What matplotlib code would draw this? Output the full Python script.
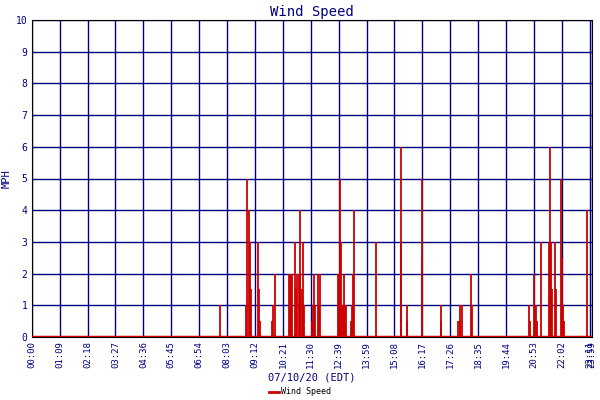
import matplotlib
matplotlib.use("Agg")
import matplotlib.pyplot as plt
from matplotlib.lines import Line2D

tick_labels = ["00:00","01:09","02:18","03:27","04:36","05:45","06:54","08:03","09:12","10:21",
               "11:30","12:39","13:59","15:08","16:17","17:26","18:35","19:44","20:53","22:02","23:11","23:59"]
tick_minutes = [i*69 for i in range(21)] + [1386]

times = [465,530,533,537,539,542,560,562,564,595,597,602,636,638,640,644,651,653,656,660,663,664,668,671,673,
         693,696,698,701,708,711,714,757,759,761,762,765,767,770,772,774,777,789,792,794,797,851,
         912,914,927,929,964,966,1011,1013,1055,1058,1060,1063,1087,1089,
         1230,1232,1242,1244,1247,1249,1260,1280,1282,1285,1286,1294,1297,1308,1311,1313,1316,1372]
speeds = [1.0,1.0,5.0,4.0,3.0,1.5,3.0,1.5,0.5,0.5,1.0,2.0,2.0,2.0,2.0,2.0,3.0,1.5,2.0,2.0,2.0,4.0,1.5,3.0,1.0,
          0.5,1.0,2.0,1.0,2.0,1.0,2.0,2.0,2.0,2.0,5.0,3.0,1.0,1.0,2.0,1.0,1.0,0.5,1.0,2.0,4.0,3.0,
          3.0,6.0,1.0,0.5,5.0,2.5,1.0,0.5,0.5,1.0,0.5,1.0,2.0,1.0,
          1.0,0.5,2.0,1.0,1.0,0.5,3.0,3.0,6.0,3.0,1.5,3.0,1.5,5.0,2.5,1.0,0.5,4.0]

navy = "#000080"
red = "#cc0000"
font = "DejaVu Sans Mono"

fig = plt.figure(figsize=(6, 4), dpi=100)
ax = fig.add_axes([0.053, 0.1575, 0.934, 0.7925])
ax.set_xlim(0, 1380)
ax.set_ylim(0, 10)
ax.vlines(times, 0, speeds, color=red, linewidth=1.3, zorder=3)
ax.axhline(0, color=red, linewidth=2.5, zorder=4)
ax.set_xticks(tick_minutes)
ax.set_xticklabels(tick_labels, rotation=90, fontsize=6.5, color=navy, family=font)
ax.set_yticks(range(11))
ax.set_yticklabels([str(i) for i in range(11)], fontsize=7, color=navy, family=font)
ax.grid(True, color=navy, linewidth=1)
ax.tick_params(length=0, pad=3)
for s in ax.spines.values():
    s.set_color("black")
ax.set_title("Wind Speed", color=navy, family=font, fontsize=10, pad=3)
ax.set_ylabel("MPH", color=navy, family=font, fontsize=7.5, labelpad=3)
ax.set_xlabel("07/10/20 (EDT)", color=navy, family=font, fontsize=7.5, labelpad=3)
fig.legend(handles=[Line2D([], [], color=red, linewidth=2)], labels=["Wind Speed"],
           loc="lower center", bbox_to_anchor=(0.5, -0.01), frameon=False,
           prop={"family": font, "size": 6}, handlelength=1.2, handletextpad=0.3)
fig.savefig("out.png", dpi=100)
